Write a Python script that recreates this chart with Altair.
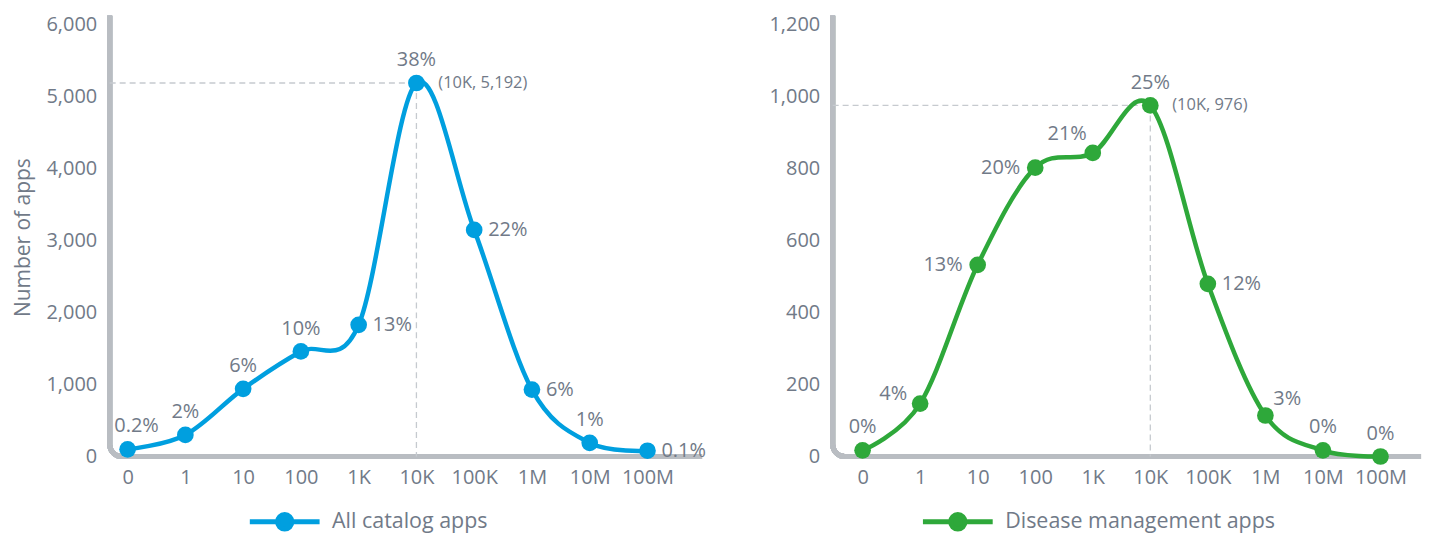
import math
import altair as alt
import pandas as pd

# ---------------- data ----------------
x_labels = ["0", "1", "10", "100", "1K", "10K", "100K", "1M", "10M", "100M"]

all_name = "All catalog apps"
all_values = [100, 300, 940, 1460, 1830, 5192, 3150, 930, 190, 80]
all_pct = ["0.2%", "2%", "6%", "10%", "13%", "38%", "22%", "6%", "1%", "0.1%"]
all_place = ["above-shift", "above", "above", "above", "right", "above", "right", "right", "above", "right"]

dis_name = "Disease management apps"
dis_values = [17, 147, 533, 803, 844, 976, 480, 114, 17, 0]
dis_pct = ["0%", "4%", "13%", "20%", "21%", "25%", "12%", "3%", "0%", "0%"]
dis_place = ["above", "left-up", "left", "left", "above-left", "above", "right", "above-right", "above", "above"]

all_yticks = [0, 1000, 2000, 3000, 4000, 5000, 6000]
dis_yticks = [0, 200, 400, 600, 800, 1000, 1200]

# ---------------- style ----------------
FONT = "Open Sans"
FS = 20
TXT = "#717a88"
AXIS = "#b9bdc2"
DASH = "#c6cacf"
H = 440
R = 12        # corner radius of the axis frame
AW = 5        # axis line width

label_expr = "[" + ",".join("'%s'" % s for s in x_labels) + "][datum.value]"

PLACE = {
    "above": dict(align="center", baseline="bottom", dx=0, dy=-13),
    "above-shift": dict(align="center", baseline="bottom", dx=9, dy=-13),
    "right": dict(align="left", baseline="middle", dx=14, dy=0),
    "left": dict(align="right", baseline="middle", dx=-15, dy=0),
    "left-up": dict(align="right", baseline="middle", dx=-13, dy=-10),
    "above-left": dict(align="right", baseline="bottom", dx=-6, dy=-9),
    "above-right": dict(align="left", baseline="bottom", dx=8, dy=-7),
}

LEGEND_SYMBOL = ("M-3.2,0L-0.66,0M0.66,0L3.2,0"
                 "M-0.66,0A0.66,0.66 0 1,0 0.66,0A0.66,0.66 0 1,0 -0.66,0Z")


def panel(name, values, pct, place, color, ymax, yticks, ytitle, width, xdom, legend_x):
    df = pd.DataFrame({
        "idx": list(range(len(x_labels))),
        "label": x_labels,
        "value": values,
        "pct": pct,
        "place": place,
        "series": [name] * len(values),
    })
    pk = int(pd.Series(values).idxmax())
    peak = df.iloc[[pk]].copy()
    peak["note"] = "(%s, %s)" % (x_labels[pk], format(values[pk], ","))
    peak["x0"] = xdom[0]
    peak["y0"] = 0

    xs = alt.Scale(domain=xdom, nice=False, zero=False)
    ys = alt.Scale(domain=[0, ymax], nice=False)
    x = alt.X("idx:Q", scale=xs,
              axis=alt.Axis(values=list(range(len(x_labels))), labelExpr=label_expr,
                            title=None))
    y = alt.Y("value:Q", scale=ys,
              axis=alt.Axis(values=yticks, labelExpr="format(datum.value, ',')",
                            title=ytitle if ytitle else None))
    cscale = alt.Scale(domain=[name], range=[color])

    base = alt.Chart(df)

    # axis frame with rounded corner
    yline = base.mark_rule(color=AXIS, strokeWidth=AW).encode(
        x=alt.value(0), y=alt.value(-2), y2=alt.value(H - R))
    xline = base.mark_rule(color=AXIS, strokeWidth=AW).encode(
        x=alt.value(R), x2=alt.value(width + 2), y=alt.value(H))
    corner = base.mark_arc(color=AXIS, radius=R + AW / 2, radius2=R - AW / 2,
                           theta=math.pi, theta2=1.5 * math.pi).encode(
        x=alt.value(R), y=alt.value(H - R))

    hdash = alt.Chart(peak).mark_rule(strokeDash=[6, 4], color=DASH, strokeWidth=1.3).encode(
        x=alt.X("x0:Q", scale=xs), x2="idx:Q", y=y)
    vdash = alt.Chart(peak).mark_rule(strokeDash=[6, 4], color=DASH, strokeWidth=1.3).encode(
        x=x, y=y, y2="y0:Q")

    line = base.mark_line(interpolate="cardinal", strokeWidth=4.5).encode(
        x=x, y=y,
        color=alt.Color("series:N", scale=cscale,
                        legend=alt.Legend(title=None, orient="none",
                                          legendX=legend_x, legendY=492,
                                          symbolType=LEGEND_SYMBOL,
                                          symbolSize=478, symbolStrokeWidth=5,
                                          symbolFillColor=color,
                                          symbolStrokeColor=color,
                                          labelFontSize=21.5, labelColor=TXT,
                                          labelFont=FONT, labelOffset=34,
                                          labelLimit=500, padding=0)))
    pts = base.mark_circle(size=280, opacity=1).encode(
        x=x, y=y, color=alt.Color("series:N", scale=cscale, legend=None))

    layers = [yline, xline, corner, hdash, vdash, line, pts]
    for key, st in PLACE.items():
        layers.append(
            base.transform_filter(alt.datum.place == key)
            .mark_text(font=FONT, fontSize=FS, color=TXT, **st)
            .encode(x=x, y=y, text="pct:N"))
    note = alt.Chart(peak).mark_text(font=FONT, fontSize=16.5, color=TXT, align="left",
                                     baseline="middle", dx=22).encode(
        x=x, y=y, text="note:N")
    layers.append(note)

    return alt.layer(*layers).properties(width=width, height=H)


left = panel(all_name, all_values, all_pct, all_place, "#009fdf", 6100, all_yticks,
             "Number of apps", 592, [-0.31, 9.91], 162)
right = panel(dis_name, dis_values, dis_pct, dis_place, "#2ea83a", 1220, dis_yticks,
              None, 588, [-0.52, 9.67], 112)

chart = (
    alt.hconcat(left, right, spacing=63)
    .resolve_scale(color="independent")
    .properties(padding={"top": 12, "left": 13, "right": 5, "bottom": 0})
    .configure_view(stroke=None)
    .configure_axis(
        domain=False, ticks=False, grid=False,
        labelFont=FONT, labelFontSize=FS, labelColor=TXT,
        titleFont=FONT, titleFontSize=21, titleColor=TXT, titleFontWeight="normal",
    )
    .configure_axisX(labelPadding=11)
    .configure_axisY(labelPadding=13, titlePadding=12)
)

chart.save("out.html", embed_options={"renderer": "svg", "actions": False})
